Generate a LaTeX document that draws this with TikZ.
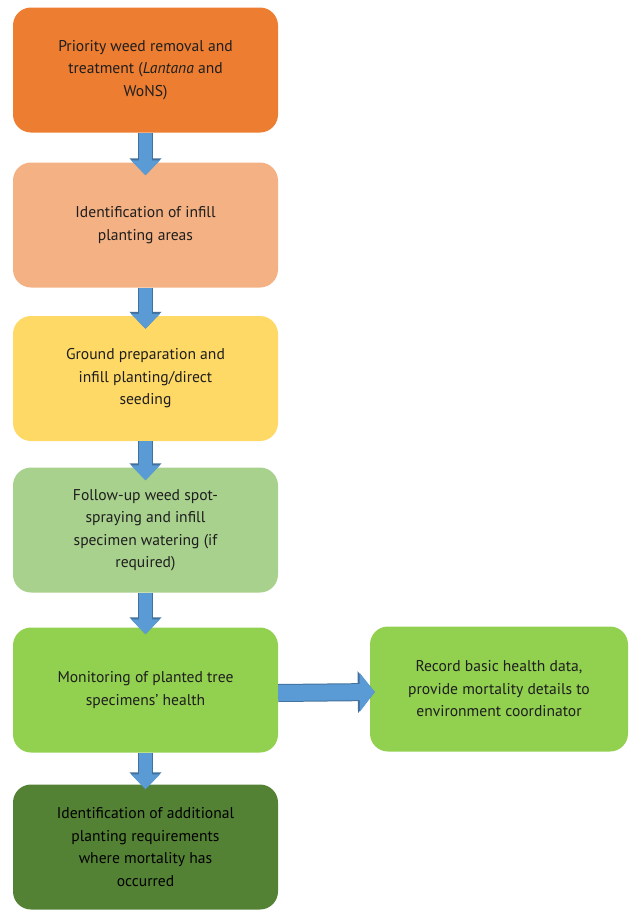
\documentclass[tikz,border=0pt]{standalone}
\usepackage{fontspec}
\setmainfont{PT Sans}
\usetikzlibrary{arrows.meta}

\definecolor{weedorange}{HTML}{ED7D31}
\definecolor{lightorange}{HTML}{F4B183}
\definecolor{seedyellow}{HTML}{FFD966}
\definecolor{palegreen}{HTML}{A9D18E}
\definecolor{leafgreen}{HTML}{92D050}
\definecolor{darkgreen}{HTML}{548235}
\definecolor{arrowblue}{HTML}{5B9BD5}
\definecolor{arrowedge}{HTML}{41719C}
\definecolor{inktext}{HTML}{1E1E1E}

\tikzset{
  stepbox/.style={rounded corners=18pt, minimum width=265pt, minimum height=125pt,
    inner sep=0pt, align=center, text=inktext,
    font=\fontsize{15.6}{22.5}\selectfont},
  flowarrow/.style={
    preaction={draw=arrowedge, line width=15pt, -{Triangle[width=31pt,length=17pt]}},
    draw=arrowblue, line width=13pt, -{Triangle[width=28pt,length=15pt]}},
  sidearrow/.style={
    preaction={draw=arrowedge, line width=18pt, -{Triangle[width=41pt,length=17pt]}},
    draw=arrowblue, line width=16pt, -{Triangle[width=38pt,length=15pt]}}
}

\begin{document}
\begin{tikzpicture}[x=1pt, y=-1pt]
  \useasboundingbox (0,0) rectangle (629,910);

  % Boxes
  \node[stepbox, fill=weedorange] (weed) at (145.5,70)
    {Priority weed removal and\\treatment (\textit{Lantana} and\\WoNS)};
  \node[stepbox, fill=lightorange] (infill) at (145.5,225)
    {Identification of infill\\planting areas};
  \node[stepbox, fill=seedyellow] (ground) at (145.5,378.5)
    {Ground preparation and\\infill planting/direct\\seeding};
  \node[stepbox, fill=palegreen] (spray) at (145.5,530)
    {Follow-up weed spot-\\spraying and infill\\specimen watering (if\\required)};
  \node[stepbox, fill=leafgreen] (monitor) at (145.5,690)
    {Monitoring of planted tree\\specimens’ health};
  \node[stepbox, fill=leafgreen, minimum width=258pt] (record) at (499,689)
    {Record basic health data,\\provide mortality details to\\environment coordinator};
  \node[stepbox, fill=darkgreen, text=black] (extra) at (145.5,847)
    {Identification of additional\\planting requirements\\where mortality has\\occurred};

  % Arrows
  \draw[flowarrow] (weed.south) -- ([yshift=-13pt]infill.north);
  \draw[flowarrow] (infill.south) -- ([yshift=-13pt]ground.north);
  \draw[flowarrow] (ground.south) -- ([yshift=-13pt]spray.north);
  \draw[flowarrow] (spray.south) -- ([yshift=-7pt]monitor.north);
  \draw[flowarrow] (monitor.south) -- ([yshift=-5pt]extra.north);
  \draw[sidearrow] ([yshift=-3pt]monitor.east) -- ([xshift=5pt,yshift=-3pt]record.west);
\end{tikzpicture}
\end{document}
